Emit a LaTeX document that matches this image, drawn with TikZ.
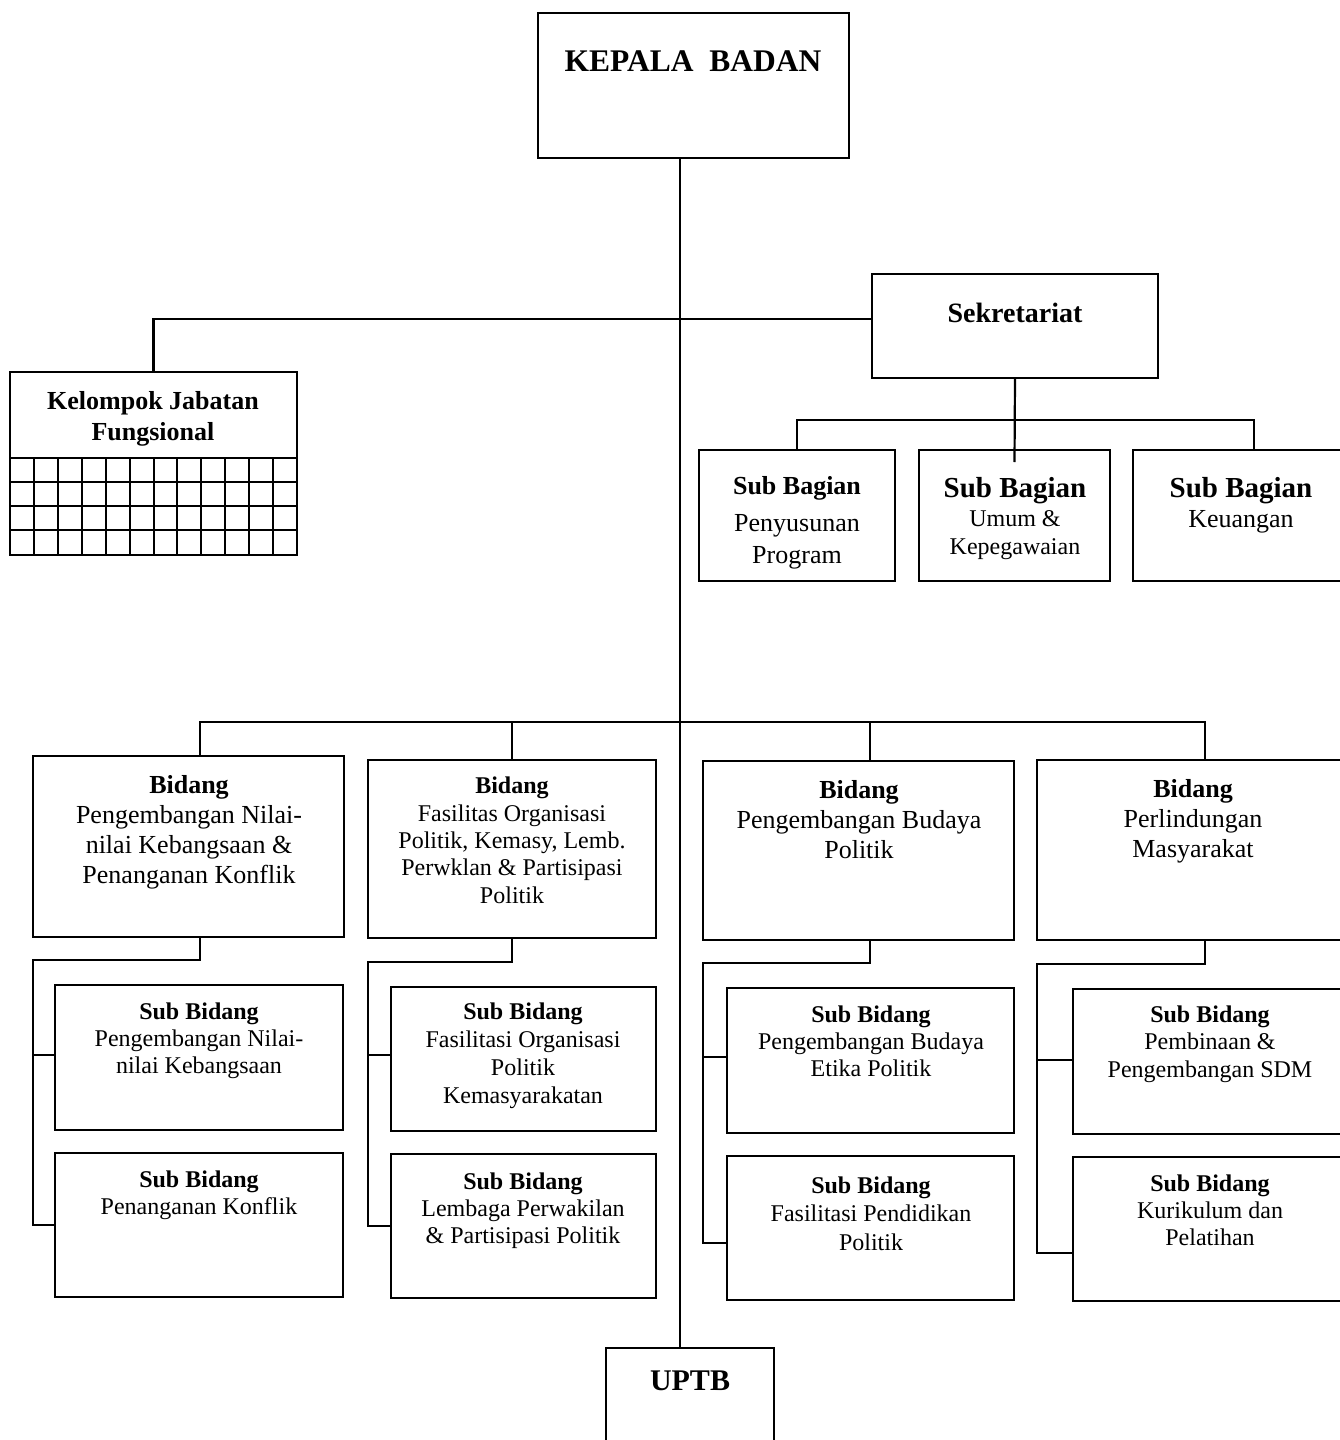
\documentclass[tikz,border=0pt]{standalone}
\usepackage{fontspec}
\setmainfont{Liberation Serif}
\newcommand\fsz[2]{\fontsize{#1pt}{#2pt}\selectfont}
\newcommand\BX[5]{%
  \pgfmathsetmacro\bxw{#4-#2}\pgfmathsetmacro\bxh{#5-#3}%
  \node[box,minimum width=\bxw pt,minimum height=\bxh pt] (#1) at ({(#2+#4)/2},{(#3+#5)/2}) {};}
\begin{document}
\begin{tikzpicture}[x=1pt,y=-1pt,
  box/.style={draw,line width=2.2pt,inner sep=0pt,outer sep=0pt,fill=white},
  txt/.style={anchor=base,align=center,inner sep=0pt},
  conn/.style={line width=2.2pt}]
\clip (0,0) rectangle (1340,1440);
\fill[white] (0,0) rectangle (1340,1440);
% reference coordinates
\coordinate (mx) at (680,0);
\coordinate (h1) at (0,319);
\coordinate (h2) at (0,420);
\coordinate (h3) at (0,722);
\coordinate (v1) at (200,0);
\coordinate (v2) at (512,0);
\coordinate (v3) at (870,0);
\coordinate (v4) at (1205,0);
\coordinate (y3b) at (0,1243);
\coordinate (y4b) at (0,1253);
\coordinate (y1a) at (0,1055);
\coordinate (y2a) at (0,1055);
\coordinate (y3a) at (0,1057);
\coordinate (y4a) at (0,1060);
% main vertical first (behind boxes)
\BX{kepala}{538}{13}{849}{158}
\BX{uptb}{606}{1348}{774}{1470}
\draw[conn] (kepala.south -| mx) -- (uptb.north -| mx);
% boxes
\BX{sek}{872}{274}{1158}{378}
\BX{kjf}{10}{372}{297}{555}
\BX{sb1}{699}{450}{895}{581}
\BX{sb2}{919}{450}{1110}{581}
\BX{sb3}{1133}{450}{1375}{581}
\BX{b1}{33}{756}{344}{937}
\BX{b2}{368}{760}{656}{938}
\BX{b3}{703}{761}{1014}{940}
\BX{b4}{1037}{760}{1375}{940}
\BX{s1a}{55}{985}{343}{1130}
\BX{s1b}{55}{1153}{343}{1297}
\BX{s2a}{391}{987}{656}{1131}
\BX{s2b}{391}{1154}{656}{1298}
\BX{s3a}{727}{988}{1014}{1133}
\BX{s3b}{727}{1156}{1014}{1300}
\BX{s4a}{1073}{989}{1375}{1134}
\BX{s4b}{1073}{1157}{1375}{1301}
% grid of Kelompok Jabatan Fungsional
\foreach \yy in {458,482,506,530}
  \draw[line width=2pt] (10,\yy) -- (297,\yy);
\foreach \i in {1,...,11}
  \draw[line width=2pt] ({10+\i*23.92},458) -- ({10+\i*23.92},555);
% connectors: top level
\draw[conn] (kjf.north) -- (kjf.north |- h1) -- (sek.west |- h1);
\draw[conn] (sek.south) -- ([yshift=-12pt]sb2.north);
\draw[conn] (sb1.north) -- (sb1.north |- h2) -- (sb3.north |- h2) -- (sb3.north);
\draw[conn] (b1.north -| v1) -- (v1 |- h3) -- (v4 |- h3) -- (b4.north -| v4);
\draw[conn] (b2.north -| v2) -- (v2 |- h3);
\draw[conn] (b3.north -| v3) -- (v3 |- h3);
% connectors: bidang to sub bidang
\draw[conn] (b1.south -| v1) -- ++(0,23) -| (b1.west |- s1b.west) -- (s1b.west);
\draw[conn] (b1.west |- y1a) -- (s1a.west |- y1a);
\draw[conn] (b2.south -| v2) -- ++(0,24) -| (b2.west |- s2b.west) -- (s2b.west);
\draw[conn] (b2.west |- y2a) -- (s2a.west |- y2a);
\draw[conn] (b3.south -| v3) -- ++(0,23) -| (b3.west |- y3b) -- (s3b.west |- y3b);
\draw[conn] (b3.west |- y3a) -- (s3a.west |- y3a);
\draw[conn] (b4.south -| v4) -- ++(0,24) -| (b4.west |- y4b) -- (s4b.west |- y4b);
\draw[conn] (b4.west |- y4a) -- (s4a.west |- y4a);
% texts (anchor=base is the baseline of the last line)
\node[txt,font=\fsz{31.5}{34}\bfseries] (t-kepala) at (693,71) {KEPALA\ \ BADAN};
\node[txt,font=\fsz{28}{32}\bfseries] (t-sek) at (1015,322) {Sekretariat};
\node[txt,font=\fsz{26}{31}\bfseries] (t-kjf) at (153,440) {Kelompok Jabatan\\Fungsional};
\node[txt,font=\fsz{26}{32}] (t-sb1) at (797,563) {\textbf{Sub Bagian}\\[5pt]Penyusunan\\Program};
\node[txt,font=\fsz{24}{28}] (t-sb2) at (1015,554) {{\fsz{29}{29}\bfseries Sub Bagian}\\[1pt]Umum \&\\Kepegawaian};
\node[txt,font=\fsz{26}{30}] (t-sb3) at (1241,527) {{\fsz{29}{29}\bfseries Sub Bagian}\\Keuangan};
\node[txt,font=\fsz{26}{30}] (t-b1) at (189,883) {\textbf{Bidang}\\Pengembangan Nilai-\\nilai Kebangsaan \&\\Penanganan Konflik};
\node[txt,font=\fsz{24}{27.3}] (t-b2) at (512,903) {\textbf{Bidang}\\Fasilitas Organisasi\\Politik, Kemasy, Lemb.\\Perwklan \& Partisipasi\\Politik};
\node[txt,font=\fsz{26}{30}] (t-b3) at (859,858) {\textbf{Bidang}\\Pengembangan Budaya\\Politik};
\node[txt,font=\fsz{26}{30}] (t-b4) at (1193,857) {\textbf{Bidang}\\Perlindungan\\Masyarakat};
\node[txt,font=\fsz{24}{27}] (t-s1a) at (199,1073) {\textbf{Sub Bidang}\\Pengembangan Nilai-\\nilai Kebangsaan};
\node[txt,font=\fsz{24}{27}] (t-s1b) at (199,1214) {\textbf{Sub Bidang}\\Penanganan Konflik};
\node[txt,font=\fsz{24}{27.7}] (t-s2a) at (523,1103) {\textbf{Sub Bidang}\\Fasilitasi Organisasi\\Politik\\Kemasyarakatan};
\node[txt,font=\fsz{24}{27}] (t-s2b) at (523,1243) {\textbf{Sub Bidang}\\Lembaga Perwakilan\\\& Partisipasi Politik};
\node[txt,font=\fsz{24}{27}] (t-s3a) at (871,1076) {\textbf{Sub Bidang}\\Pengembangan Budaya\\Etika Politik};
\node[txt,font=\fsz{24}{28.5}] (t-s3b) at (871,1250) {\textbf{Sub Bidang}\\Fasilitasi Pendidikan\\Politik};
\node[txt,font=\fsz{24}{27.5}] (t-s4a) at (1210,1077) {\textbf{Sub Bidang}\\Pembinaan \&\\Pengembangan SDM};
\node[txt,font=\fsz{24}{27}] (t-s4b) at (1210,1245) {\textbf{Sub Bidang}\\Kurikulum dan\\Pelatihan};
\node[txt,font=\fsz{30}{34}\bfseries] (t-uptb) at (690,1390) {UPTB};
\end{tikzpicture}
\end{document}
